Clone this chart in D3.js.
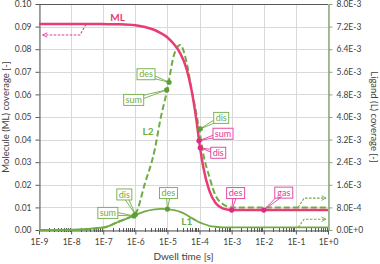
<!DOCTYPE html>
<html>
<head>
<meta charset="utf-8">
<script src="https://cdn.jsdelivr.net/npm/d3@7"></script>
<style>
  body { margin: 0; background: #fff; }
  svg { display: block; font-family: Lato, "Open Sans", sans-serif; }
</style>
</head>
<body>
<svg id="chart" width="380" height="264"></svg>
<script>
// dwell time grid [s] and coverages
const dwellTime  = [1e-9, 1e-8, 1e-7, 3e-7, 1e-6, 2e-6, 4e-6, 6e-6, 1e-5, 1.6e-5, 2.5e-5, 4e-5, 5.6e-5, 8e-5, 1e-4, 1.3e-4, 2e-4, 3.2e-4, 5e-4, 8e-4, 1e-3, 1e-2, 1e-1, 1];
const mlCoverage = [0.0912, 0.0912, 0.0911, 0.0910, 0.0906, 0.0898, 0.0885, 0.0872, 0.0852, 0.0822, 0.0782, 0.0710, 0.0620, 0.0485, 0.0380, 0.0280, 0.0175, 0.0118, 0.0097, 0.0090, 0.0088, 0.0088, 0.0088, 0.0088];
const l2Coverage = [0, 0, 8e-5, 3e-4, 5.8e-4, 1.66e-3, 2.83e-3, 3.9e-3, 5.0e-3, 6.2e-3, 6.55e-3, 5.9e-3, 5.0e-3, 4.1e-3, 3.5e-3, 2.7e-3, 1.9e-3, 1.2e-3, 9.4e-4, 8.2e-4, 8.0e-4, 8.0e-4, 8.0e-4, 8.0e-4];
const l1Coverage = [0, 1e-5, 9e-5, 2.9e-4, 5.3e-4, 6.6e-4, 7.3e-4, 7.5e-4, 7.4e-4, 7.0e-4, 6.4e-4, 5.3e-4, 4.3e-4, 3.3e-4, 2.7e-4, 2.2e-4, 1.5e-4, 1.15e-4, 9e-5, 9e-5, 9e-5, 9e-5, 9e-5, 9e-5];

// axis ticks
const timeTicks  = [1e-9, 1e-8, 1e-7, 1e-6, 1e-5, 1e-4, 1e-3, 1e-2, 1e-1, 1];
const leftTicks  = [0, 0.01, 0.02, 0.03, 0.04, 0.05, 0.06, 0.07, 0.08, 0.09, 0.10];
const rightTicks = [0, 8e-4, 1.6e-3, 2.4e-3, 3.2e-3, 4.0e-3, 4.8e-3, 5.6e-3, 6.4e-3, 7.2e-3, 8.0e-3];

// labelled points
const markerName   = ['sum', 'dis', 'des', 'sum', 'des', 'dis', 'sum', 'dis', 'des', 'gas'];
const markerSeries = ['L1', 'L1', 'L1', 'L2', 'L2', 'L2', 'ML', 'ML', 'ML', 'ML'];
const markerTime   = [9e-7, 1e-6, 1e-5, 9.5e-6, 1.12e-5, 1.05e-4, 9.6e-5, 1.05e-4, 1e-3, 1e-2];
const markerValue  = [5.0e-4, 5.5e-4, 7.4e-4, 4.96e-3, 5.23e-3, 3.58e-3, 0.0395, 0.0364, 0.0088, 0.0088];

// "goes on" arrows: start, bend, end as [time, value]
const mlArrow = [[2.9e-8, 0.0910], [1.9e-8, 0.0863], [1.3e-9, 0.0863]];
const l2Arrow = [[0.118, 8.0e-4], [0.18, 1.13e-3], [0.87, 1.13e-3]];
const l1Arrow = [[0.118, 9e-5], [0.18, 3.8e-4], [0.87, 3.8e-4]];

// layout only (pixel offsets of callout boxes from their point)
const calloutShift = [[-26, -3], [-11, -20], [1, -16], [-33, 10], [-23, -8], [21, -11], [24, -7], [18, 5], [4, -17], [20, -17.5]];

const green = '#6fac44', pink = '#e83c72', magenta = '#e0399a';
const axisGrey = '#595959', textGrey = '#404040';

var svg = d3.select('#chart');
var padL = 39, padR = 328, padT = 4, padB = 230;

var x = d3.scaleLog().domain([1e-9, 1]).range([padL, padR]);
var yL = d3.scaleLinear().domain([0, 0.1]).range([padB, padT]);
var yR = d3.scaleLinear().domain([0, 8e-3]).range([padB, padT]);
function yOf(s, v){ return s == 'ML' ? yL(v) : yR(v); }

// grid
svg.append('g').selectAll('line').data(leftTicks).enter()
	.append('line')
		.attr('x1', padL).attr('x2', padR)
		.attr('y1', d => Math.round(yL(d)) + 0.5).attr('y2', d => Math.round(yL(d)) + 0.5)
		.attr('stroke', '#d9d9d9').attr('stroke-width', 1);
svg.append('g').selectAll('line').data(timeTicks).enter()
	.append('line')
		.attr('x1', d => Math.round(x(d)) + 0.5).attr('x2', d => Math.round(x(d)) + 0.5)
		.attr('y1', padT).attr('y2', padB)
		.attr('stroke', '#d9d9d9').attr('stroke-width', 1);

// top border
svg.append('line')
	.attr('x1', padL).attr('x2', padR).attr('y1', padT + 0.5).attr('y2', padT + 0.5)
	.attr('stroke', axisGrey).attr('stroke-width', 1);

// axes
var gL = svg.append('g').attr('transform', 'translate(' + (padL + 0.5) + ',0)')
	.call(d3.axisLeft(yL).tickValues(leftTicks).tickFormat(d3.format('.2f')).tickSize(4).tickPadding(4).tickSizeOuter(0));
var gR = svg.append('g').attr('transform', 'translate(' + (padR + 0.5) + ',0)')
	.call(d3.axisRight(yR).tickValues(rightTicks).tickFormat(d => d.toExponential(1).toUpperCase()).tickSize(4).tickPadding(4).tickSizeOuter(0));
var gB = svg.append('g').attr('transform', 'translate(0,' + (padB + 0.5) + ')')
	.call(d3.axisBottom(x).tickValues(timeTicks).tickFormat(d => {
		var e = Math.round(Math.log10(d));
		return '1E' + (e >= 0 ? '+' : '') + e;
	}).tickSize(4).tickPadding(4).tickSizeOuter(0));

[gL, gB].forEach(g => {
	g.select('.domain').attr('stroke', axisGrey);
	g.selectAll('.tick line').attr('stroke', axisGrey);
});
gR.select('.domain').attr('stroke', '#8aa878').attr('stroke-width', 1.5);
gR.selectAll('.tick line').attr('stroke', '#8aa878');
[gL, gR, gB].forEach(g => g.selectAll('text').attr('fill', textGrey).style('font-size', '8.5px').style('font-family', 'Lato, sans-serif'));

// minor log ticks on the time axis
var minor = [];
timeTicks.slice(0, -1).forEach(t => { for (var k = 2; k < 10; k++) minor.push(t * k); });
svg.append('g').selectAll('line').data(minor).enter()
	.append('line')
		.attr('x1', d => Math.round(x(d)) + 0.5).attr('x2', d => Math.round(x(d)) + 0.5)
		.attr('y1', padB - 2).attr('y2', padB + 2)
		.attr('stroke', axisGrey).attr('stroke-width', 1);

// axis titles
svg.append('text')
	.attr('transform', 'translate(9,117) rotate(-90)')
	.attr('text-anchor', 'middle')
	.attr('fill', textGrey).style('font-size', '9.5px')
	.text('Molecule (ML) coverage [-]');
svg.append('text')
	.attr('transform', 'translate(371,117) rotate(90)')
	.attr('text-anchor', 'middle')
	.attr('fill', textGrey).style('font-size', '9.5px')
	.text('Ligand (L) coverage [-]');
svg.append('text')
	.attr('x', (padL + padR) / 2).attr('y', 260)
	.attr('text-anchor', 'middle')
	.attr('fill', textGrey).style('font-size', '10px')
	.text('Dwell time [s]');

// curves
function curveOf(vals, s){
	return d3.line()
		.x((d, i) => x(dwellTime[i]))
		.y(d => yOf(s, d))
		.curve(d3.curveMonotoneX)(vals);
}
svg.append('path').attr('d', curveOf(l1Coverage, 'L1'))
	.attr('fill', 'none').attr('stroke', green).attr('stroke-width', 1.8);
svg.append('path').attr('d', curveOf(l2Coverage, 'L2'))
	.attr('fill', 'none').attr('stroke', green).attr('stroke-width', 2).attr('stroke-dasharray', '6,3');
svg.append('path').attr('d', curveOf(mlCoverage, 'ML'))
	.attr('fill', 'none').attr('stroke', pink).attr('stroke-width', 2.5);

// dashed arrows
var defs = svg.append('defs');
[['arrG', green], ['arrP', magenta]].forEach(a => {
	defs.append('marker')
		.attr('id', a[0]).attr('viewBox', '0 0 8 8').attr('refX', 7).attr('refY', 4)
		.attr('markerWidth', 6).attr('markerHeight', 6).attr('orient', 'auto')
		.attr('markerUnits', 'userSpaceOnUse')
		.append('path').attr('d', 'M1,1 L7,4 L1,7')
		.attr('fill', 'none').attr('stroke', a[1]).attr('stroke-width', 1.2);
});
function drawArrow(pts, s, col, mk){
	svg.append('path')
		.attr('d', d3.line().x(d => x(d[0])).y(d => yOf(s, d[1]))(pts))
		.attr('fill', 'none').attr('stroke', col).attr('stroke-width', 1.1)
		.attr('stroke-dasharray', '2.5,1.5')
		.attr('marker-end', 'url(#' + mk + ')');
}
drawArrow(mlArrow, 'ML', magenta, 'arrP');
drawArrow(l2Arrow, 'L2', green, 'arrG');
drawArrow(l1Arrow, 'L1', green, 'arrG');

// series names
svg.append('text').attr('x', x(2.8e-7)).attr('y', yL(0.0925))
	.attr('text-anchor', 'middle').attr('fill', pink)
	.style('font-size', '10px').style('font-weight', 'bold').text('ML');
svg.append('text').attr('x', x(2.5e-6)).attr('y', yR(3.36e-3))
	.attr('text-anchor', 'middle').attr('fill', green)
	.style('font-size', '10px').style('font-weight', 'bold').text('L2');
svg.append('text').attr('x', x(4e-5)).attr('y', yR(1.77e-4))
	.attr('text-anchor', 'middle').attr('fill', green)
	.style('font-size', '10px').style('font-weight', 'bold').text('L1');

// callouts
var callouts = svg.append('g');
markerName.forEach((name, i) => {
	var s = markerSeries[i];
	var col = s == 'ML' ? magenta : green;
	var px = x(markerTime[i]), py = yOf(s, markerValue[i]);
	var cx = px + calloutShift[i][0], cy = py + calloutShift[i][1];
	var g = callouts.append('g');
	var w = name == 'sum' ? 20 : (name == 'dis' ? 15 : 18), h = 11;
	// tail: thin wedge from box toward the point
	var ang = Math.atan2(py - cy, px - cx), sp = 2.2;
	var nx = -Math.sin(ang) * sp, ny = Math.cos(ang) * sp;
	g.append('path')
		.attr('d', 'M' + (cx + nx) + ',' + (cy + ny) + 'L' + px + ',' + py + 'L' + (cx - nx) + ',' + (cy - ny) + 'Z')
		.attr('fill', '#fff').attr('stroke', col).attr('stroke-width', 0.9);
	g.append('rect')
		.attr('x', cx - w / 2).attr('y', cy - h / 2).attr('width', w).attr('height', h)
		.attr('fill', '#fff').attr('stroke', col).attr('stroke-width', 0.9);
	g.append('text')
		.attr('x', cx).attr('y', cy + 3.2)
		.attr('text-anchor', 'middle').attr('fill', col)
		.style('font-size', '9px').text(name);
});

// points on top
svg.append('g').selectAll('circle').data(markerName).enter()
	.append('circle')
		.attr('cx', (d, i) => x(markerTime[i]))
		.attr('cy', (d, i) => yOf(markerSeries[i], markerValue[i]))
		.attr('r', 2.6)
		.attr('fill', (d, i) => markerSeries[i] == 'ML' ? '#d92c86' : '#5e9e36');
</script>
</body>
</html>
